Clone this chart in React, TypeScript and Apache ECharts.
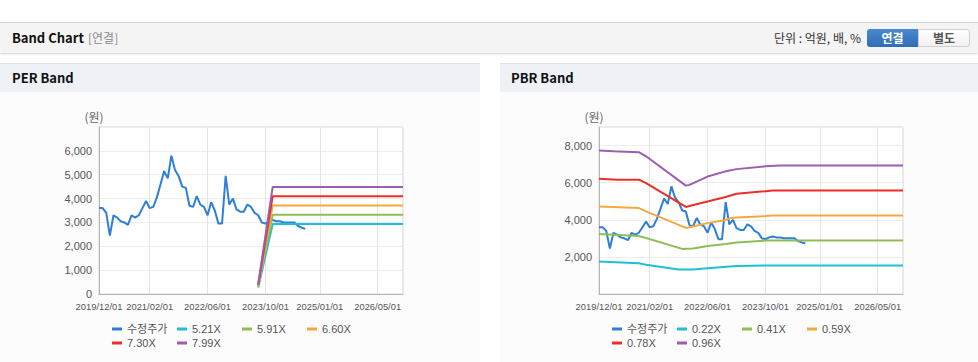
import React, { useEffect, useRef } from 'react';
import * as echarts from 'echarts';

// ---- categories (monthly, 2019/12 .. 2026/12) ----
const START_YEAR = 2019;
const START_MONTH = 12;
const MONTH_COUNT = 85;
const CATEGORIES: string[] = Array.from({ length: MONTH_COUNT }, (_, i) => {
  const m0 = START_MONTH - 1 + i;
  const y = START_YEAR + Math.floor(m0 / 12);
  const m = (m0 % 12) + 1;
  return `${y}/${m < 10 ? '0' + m : m}/01`;
});
const TICK_LABELS = ['2019/12/01', '2021/02/01', '2022/06/01', '2023/10/01', '2025/01/01', '2026/05/01'];

// ---- adjusted price (수정주가), monthly from 2019/12 ----
const PRICE = [
  3600, 3600, 3400, 2450, 3300, 3200, 3050, 3000, 2900, 3300,
  3200, 3300, 3600, 3900, 3600, 3650, 4050, 4600, 5150, 4850,
  5800, 5200, 4950, 4500, 4450, 3700, 3650, 4100, 3750, 3650,
  3300, 3850, 3500, 2950, 2950, 4950, 3750, 4000, 3550, 3450,
  3450, 3750, 3650, 3400, 3300, 3000, 2950, 3050, 3100, 3050,
  3050, 3000, 3000, 3000, 3000, 2850, 2780, 2730,
];

// ---- PER bands ----
const PER_NAMES = ['5.21X', '5.91X', '6.60X', '7.30X', '7.99X'];
const PER_521 = [['2023/08/01', 275], ['2023/12/01', 2930], ['2026/12/01', 2930]];
const PER_591 = [['2023/08/01', 310], ['2023/12/01', 3320], ['2026/12/01', 3320]];
const PER_660 = [['2023/08/01', 350], ['2023/12/01', 3710], ['2026/12/01', 3710]];
const PER_730 = [['2023/08/01', 385], ['2023/12/01', 4100], ['2026/12/01', 4100]];
const PER_799 = [['2023/08/01', 420], ['2023/12/01', 4490], ['2026/12/01', 4490]];

// ---- PBR bands ----
const PBR_NAMES = ['0.22X', '0.41X', '0.59X', '0.78X', '0.96X'];
const PBR_022 = [
  ['2019/12/01', 1750], ['2020/11/01', 1660], ['2021/01/01', 1580], ['2021/10/01', 1320],
  ['2022/02/01', 1320], ['2022/06/01', 1390], ['2023/02/01', 1510], ['2023/10/01', 1540], ['2026/12/01', 1540],
];
const PBR_041 = [
  ['2019/12/01', 3240], ['2020/11/01', 3130], ['2021/01/01', 3020], ['2021/11/01', 2430],
  ['2022/02/01', 2450], ['2022/06/01', 2590], ['2022/11/01', 2700], ['2023/02/01', 2770],
  ['2023/10/01', 2880], ['2026/12/01', 2880],
];
const PBR_059 = [
  ['2019/12/01', 4710], ['2020/11/01', 4630], ['2021/01/01', 4450], ['2021/12/01', 3560],
  ['2022/01/01', 3600], ['2022/06/01', 3820], ['2022/11/01', 3990], ['2022/12/01', 4080],
  ['2023/02/01', 4120], ['2023/10/01', 4200], ['2023/12/01', 4230], ['2026/12/01', 4230],
];
const PBR_078 = [
  ['2019/12/01', 6210], ['2020/05/01', 6160], ['2020/11/01', 6160], ['2021/01/01', 5980],
  ['2021/12/01', 4690], ['2022/01/01', 4740], ['2022/06/01', 4980], ['2022/11/01', 5230],
  ['2023/02/01', 5400], ['2023/10/01', 5540], ['2023/12/01', 5580], ['2026/12/01', 5580],
];
const PBR_096 = [
  ['2019/12/01', 7740], ['2020/04/01', 7690], ['2020/11/01', 7640], ['2021/01/01', 7420],
  ['2021/12/01', 5840], ['2022/01/01', 5880], ['2022/06/01', 6330], ['2022/11/01', 6610],
  ['2023/02/01', 6730], ['2023/10/01', 6880], ['2024/02/01', 6930], ['2026/12/01', 6930],
];

const PRICE_NAME = '수정주가';
const COLORS = ['#2f7ed8', '#1ec0d6', '#8dbf57', '#f6a83e', '#ea2f28', '#9d5cb2'];
const FONT = "'Liberation Sans', Arial, 'Noto Sans CJK KR', sans-serif";
const KFONT = "'Noto Sans CJK KR', 'Liberation Sans', sans-serif";

const isTick = (_i: number, v: string) => TICK_LABELS.indexOf(v) >= 0;

function buildOption(bandNames: string[], bands: any[], yMax: number, yInterval: number, hideZero: boolean) {
  const names = [PRICE_NAME, ...bandNames];
  const series: any[] = [
    {
      name: PRICE_NAME,
      type: 'line',
      data: PRICE,
      symbol: 'none',
      lineStyle: { width: 2, color: COLORS[0] },
      itemStyle: { color: COLORS[0] },
    },
    ...bands.map((d, i) => ({
      name: bandNames[i],
      type: 'line',
      data: d,
      symbol: 'none',
      lineStyle: { width: 2, color: COLORS[i + 1] },
      itemStyle: { color: COLORS[i + 1] },
    })),
  ];
  return {
    animation: false,
    textStyle: { fontFamily: FONT },
    grid: {
      left: 99,
      top: 35,
      width: 304,
      height: 167,
      show: true,
      backgroundColor: '#ffffff',
      borderColor: '#d6d6d6',
      borderWidth: 1,
    },
    legend: {
      data: names,
      left: 107,
      top: 225,
      width: 262,
      icon: 'rect',
      itemWidth: 10,
      itemHeight: 3,
      itemGap: 0,
      selectedMode: false,
      textStyle: { fontSize: 11, color: '#555', width: 50, height: 14, lineHeight: 14, fontFamily: FONT },
    },
    xAxis: {
      type: 'category',
      data: CATEGORIES,
      boundaryGap: false,
      axisLine: { show: true, lineStyle: { color: '#b5b5b5' } },
      axisTick: { show: false },
      axisLabel: {
        interval: isTick,
        showMinLabel: true,
        hideOverlap: false,
        color: '#555',
        fontSize: 9.4,
        margin: 8,
        fontFamily: FONT,
      },
      splitLine: { show: true, interval: isTick, lineStyle: { color: '#e4e4e4' } },
    },
    yAxis: {
      type: 'value',
      min: 0,
      max: yMax,
      interval: yInterval,
      name: '(원)',
      nameLocation: 'end',
      nameGap: 5,
      nameTextStyle: { color: '#666', fontSize: 12, fontFamily: KFONT, padding: [0, 10, 0, 0] },
      axisLine: { show: true, lineStyle: { color: '#b5b5b5' } },
      axisTick: { show: false },
      axisLabel: {
        color: '#555',
        fontSize: 11,
        margin: 7,
        fontFamily: FONT,
        formatter: (v: number) => {
          if (v >= yMax) return '';
          if (hideZero && v === 0) return '';
          return v.toLocaleString('en-US');
        },
      },
      splitLine: { show: true, lineStyle: { color: '#ececec' } },
    },
    series,
  };
}

function Chart({ option }: { option: any }) {
  const ref = useRef<HTMLDivElement>(null);
  useEffect(() => {
    if (!ref.current) return;
    const chart = echarts.init(ref.current, undefined, { renderer: 'svg' });
    chart.setOption(option);
    return () => chart.dispose();
  }, [option]);
  return <div ref={ref} style={{ width: 478, height: 270 }} />;
}

const perOption = buildOption(PER_NAMES, [PER_521, PER_591, PER_660, PER_730, PER_799], 7000, 1000, false);
const pbrOption = buildOption(PBR_NAMES, [PBR_022, PBR_041, PBR_059, PBR_078, PBR_096], 9000, 2000, true);

export default function App() {
  const panelTitle: React.CSSProperties = {
    position: 'absolute',
    top: 63,
    height: 28,
    background: '#eef2f7',
    borderTop: '1px solid #dfe3e8',
    fontFamily: KFONT,
    fontWeight: 'bold',
    fontSize: 13,
    color: '#111',
    lineHeight: '28px',
    boxSizing: 'content-box',
  };
  return (
    <div
      style={{
        position: 'absolute',
        left: 0,
        top: 0,
        width: 978,
        height: 362,
        background: '#ffffff',
        overflow: 'hidden',
        fontFamily: KFONT,
      }}
    >
      {/* header bar */}
      <div
        style={{
          position: 'absolute',
          left: 0,
          top: 22,
          width: 978,
          height: 30,
          background: '#f4f4f4',
          borderTop: '1px solid #d4d4d4',
          boxShadow: '0 1px 2px rgba(0,0,0,0.18)',
        }}
      >
        <span style={{ position: 'absolute', left: 12, top: 0, lineHeight: '30px', fontSize: 13, fontWeight: 'bold', color: '#111' }}>
          Band Chart
        </span>
        <span style={{ position: 'absolute', left: 88, top: 0, lineHeight: '30px', fontSize: 12, color: '#8a8a8a' }}>
          [연결]
        </span>
        <span style={{ position: 'absolute', right: 117, top: 0, lineHeight: '30px', fontSize: 12, color: '#333' }}>
          단위 : 억원, 배, %
        </span>
        <div
          style={{
            position: 'absolute',
            left: 867,
            top: 6,
            width: 51,
            height: 18,
            background: 'linear-gradient(#4a88cf, #2f6db5)',
            borderRadius: '3px 0 0 3px',
            color: '#fff',
            fontSize: 12,
            fontWeight: 'bold',
            lineHeight: '18px',
            textAlign: 'center',
          }}
        >
          연결
        </div>
        <div
          style={{
            position: 'absolute',
            left: 918,
            top: 6,
            width: 50,
            height: 16,
            background: 'linear-gradient(#ffffff, #f1f1f1)',
            border: '1px solid #cfcfcf',
            borderRadius: '0 3px 3px 0',
            color: '#555',
            fontSize: 12,
            fontWeight: 'bold',
            lineHeight: '16px',
            textAlign: 'center',
          }}
        >
          별도
        </div>
      </div>

      {/* PER panel */}
      <div style={{ ...panelTitle, left: 0, width: 468, paddingLeft: 12 }}>PER Band</div>
      <div style={{ position: 'absolute', left: 0, top: 92, width: 480, height: 270, background: '#fcfcfc' }}>
        <Chart option={perOption} />
      </div>

      {/* PBR panel */}
      <div style={{ ...panelTitle, left: 500, width: 467, paddingLeft: 11 }}>PBR Band</div>
      <div style={{ position: 'absolute', left: 500, top: 92, width: 478, height: 270, background: '#fcfcfc' }}>
        <Chart option={pbrOption} />
      </div>
    </div>
  );
}
